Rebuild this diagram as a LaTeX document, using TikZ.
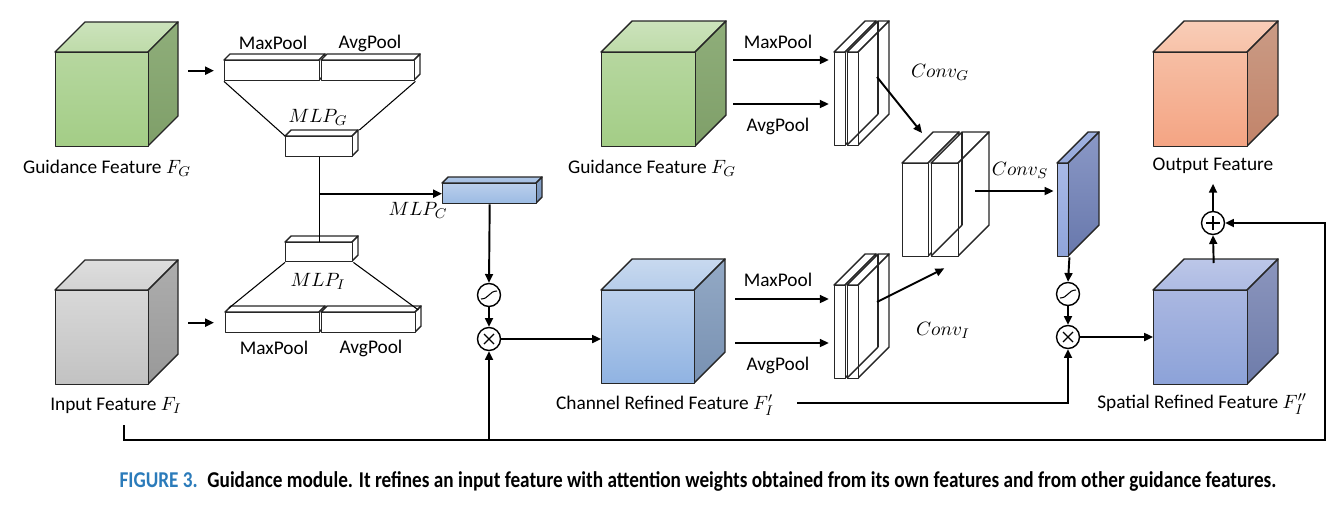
\documentclass[tikz,border=0pt]{standalone}
\usepackage[no-math]{fontspec}
\setmainfont{Carlito}
\usepackage{graphicx}
\usetikzlibrary{arrows.meta,calc}

% face colours: F = front, T = top, S = side
\definecolor{grnFtop}{HTML}{B6D79F}\definecolor{grnFbot}{HTML}{A3CD86}
\definecolor{grnTtop}{HTML}{CCE3BC}\definecolor{grnTbot}{HTML}{BEDBA9}
\definecolor{grnStop}{HTML}{8FAE7A}\definecolor{grnSbot}{HTML}{7F9F69}
\definecolor{gryFtop}{HTML}{D8D8D8}\definecolor{gryFbot}{HTML}{C2C2C2}
\definecolor{gryTtop}{HTML}{DEDEDE}\definecolor{gryTbot}{HTML}{D2D2D2}
\definecolor{gryStop}{HTML}{ADADAD}\definecolor{grySbot}{HTML}{999999}
\definecolor{bluFtop}{HTML}{BBD0EC}\definecolor{bluFbot}{HTML}{90B3E2}
\definecolor{bluTtop}{HTML}{C8D9EF}\definecolor{bluTbot}{HTML}{B6CDEA}
\definecolor{bluStop}{HTML}{93A9C5}\definecolor{bluSbot}{HTML}{7891B2}
\definecolor{purFtop}{HTML}{AAB7E1}\definecolor{purFbot}{HTML}{8CA2D8}
\definecolor{purTtop}{HTML}{BCC7E8}\definecolor{purTbot}{HTML}{AEBBE3}
\definecolor{purStop}{HTML}{8B95BD}\definecolor{purSbot}{HTML}{6E7CAA}
\definecolor{orgFtop}{HTML}{F6BEA4}\definecolor{orgFbot}{HTML}{F4A483}
\definecolor{orgTtop}{HTML}{F9CDB8}\definecolor{orgTbot}{HTML}{F7C2A8}
\definecolor{orgStop}{HTML}{CA9B85}\definecolor{orgSbot}{HTML}{C2846A}
\definecolor{mlpFtop}{HTML}{B9CEEC}\definecolor{mlpFbot}{HTML}{9BBBE3}
\definecolor{mlpTtop}{HTML}{AEC6E6}\definecolor{mlpTbot}{HTML}{A3BDE2}
\definecolor{mlpStop}{HTML}{86A2C8}\definecolor{mlpSbot}{HTML}{7894BC}
\definecolor{slaFtop}{HTML}{A8B9E7}\definecolor{slaFbot}{HTML}{8FA4DA}
\definecolor{slaTtop}{HTML}{A0B2E0}\definecolor{slaTbot}{HTML}{96A9DA}
\definecolor{slaStop}{HTML}{8A98C6}\definecolor{slaSbot}{HTML}{6878AC}
\definecolor{whtFtop}{HTML}{FFFFFF}\definecolor{whtFbot}{HTML}{FFFFFF}
\definecolor{whtTtop}{HTML}{FFFFFF}\definecolor{whtTbot}{HTML}{FFFFFF}
\definecolor{whtStop}{HTML}{FFFFFF}\definecolor{whtSbot}{HTML}{FFFFFF}
\definecolor{capblue}{HTML}{2B7BBA}

\tikzset{
  face/.style={draw=black!85, line width=0.8pt, line join=round},
  arr/.style={-{Triangle[length=5pt,width=4.5pt]}, line width=1.1pt},
  thinln/.style={line width=0.6pt},
  opnode/.style={circle, draw, line width=0.8pt, minimum size=0.46cm, inner sep=0pt, fill=white},
  sigm/.style={opnode, path picture={\draw[line width=0.6pt] ([shift={(-8,4)}]path picture bounding box.center) .. controls +(8,0) and +(-8,0) .. ([shift={(8,-4)}]path picture bounding box.center);}},
  mult/.style={opnode, path picture={\draw[line width=0.7pt] ([shift={(-5,-5)}]path picture bounding box.center) -- ([shift={(5,5)}]path picture bounding box.center) ([shift={(-5,5)}]path picture bounding box.center) -- ([shift={(5,-5)}]path picture bounding box.center);}},
  plus/.style={opnode, path picture={\draw[line width=0.7pt] ([shift={(-7,0)}]path picture bounding box.center) -- ([shift={(7,0)}]path picture bounding box.center) ([shift={(0,-7)}]path picture bounding box.center) -- ([shift={(0,7)}]path picture bounding box.center);}},
}

% name, x, y (front top left), width, height, depth, colour prefix
\newcommand{\cuboid}[7]{%
  \path[face, top color=#7Ttop, bottom color=#7Tbot] (#2,#3) -- ++(#6,-#6) -- ++(#4,0) -- ++(-#6,#6) -- cycle;
  \path[face, top color=#7Stop, bottom color=#7Sbot] (#2+#4,#3) -- ++(#6,-#6) -- ++(0,#5) -- ++(-#6,#6) -- cycle;
  \node[face, anchor=north west, inner sep=0pt, minimum width=#4*0.02cm, minimum height=#5*0.02cm, top color=#7Ftop, bottom color=#7Fbot] (#1) at (#2,#3) {};
}
% hidden edges of a slab: x, y, height, depth
\newcommand{\hidedges}[4]{%
  \draw[face] (#1+#4,#2-#4) -- ++(0,#3);
  \draw[face] (#1,#2+#3) -- ++(#4,-#4);
}

\begin{document}
\begin{tikzpicture}[x=0.02cm, y=-0.02cm, font=\fontsize{11}{13}\selectfont]
\useasboundingbox (0,0) rectangle (1339,504);

% channel attention
\cuboid{gFa}{55}{52}{93}{94}{30}{grn}
\node (gFaL) at (107,168) {Guidance Feature $F_G$};
\cuboid{inp}{55}{290}{93}{94}{30}{gry}
\node (inpL) at (116,405) {Input Feature $F_I$};

\cuboid{mxG}{224}{60}{95}{20}{6}{wht}
\cuboid{avG}{321}{60}{93}{20}{6}{wht}
\node (mxGL) at (273,43) {MaxPool};
\node (avGL) at (370,43) {AvgPool};
\cuboid{mlpG}{285}{136}{67}{20}{6}{wht}
\node (mlpGL) at (318,117) {$MLP_G$};

\cuboid{mlpI}{285}{242}{67}{19}{6}{wht}
\node (mlpIL) at (318,281) {$MLP_I$};
\cuboid{mxI}{225}{312}{94}{20}{6}{wht}
\cuboid{avI}{321}{312}{94}{20}{6}{wht}
\node (mxIL) at (274,348) {MaxPool};
\node (avIL) at (371,348) {AvgPool};

\cuboid{mlpC}{442}{183}{94}{20}{6}{mlp}
\node (mlpCL) at (418,210) {$MLP_C$};

\draw[arr] ([shift={(-36,0)}]mxG.west) -- ([shift={(-10,0)}]mxG.west);
\draw[arr] ([shift={(-37,0)}]mxI.west) -- ([shift={(-11,0)}]mxI.west);
\draw[thinln] (mxG.south west) -- (mlpG.north west);
\draw[thinln] (avG.south east) -- ($(mlpG.north east)+(6,-6)$);
\draw[thinln] (mlpI.south west) -- ($(mxI.north west)+(4,-4)$);
\draw[thinln] (mlpI.south east) -- ($(avI.north east)+(2,-2)$);
\draw[thinln] (mlpG.south) -- (mlpI.north);
\coordinate (jn) at (mlpG.south |- mlpC.west);
\draw[arr] (jn) -- (mlpC.west);

\node[sigm] (sgC) at (489,295) {};
\node[mult] (mlC) at (489,339) {};
\draw[arr] (mlpC.south) -- (sgC.north);
\draw[arr] (sgC) -- (mlC);

% spatial attention
\cuboid{gFb}{601}{52}{94}{94}{31}{grn}
\node (gFbL) at (652,168) {Guidance Feature $F_G$};
\cuboid{chr}{601}{290}{93}{93}{31}{blu}
\node (chrL) at (665,405) {Channel Refined Feature $F_I'$};
\draw[arr] (mlC.east) -- (mlC.east -| chr.west);

\cuboid{cgA}{834}{52}{11}{93}{31}{wht}
\cuboid{cgB}{847}{52}{11}{93}{31}{wht}
\hidedges{847}{52}{93}{31}
\cuboid{ciA}{834}{285}{11}{93}{31}{wht}
\cuboid{ciB}{847}{285}{11}{93}{31}{wht}
\hidedges{847}{285}{93}{31}
\cuboid{bgA}{902}{163}{26}{93}{31}{wht}
\cuboid{bgB}{931}{163}{27}{93}{31}{wht}
\hidedges{931}{163}{93}{31}
\cuboid{slb}{1057}{163}{11}{93}{31}{sla}

\coordinate (pmG) at (733,60);
\coordinate (paG) at (733,104);
\coordinate (pmI) at (735,299);
\coordinate (paI) at (735,343);
\draw[arr, shorten >=3pt] (pmG) -- (pmG -| cgA.west);
\draw[arr, shorten >=3pt] (paG) -- (paG -| cgA.west);
\draw[arr, shorten >=3pt] (pmI) -- (pmI -| ciA.west);
\draw[arr, shorten >=3pt] (paI) -- (paI -| ciA.west);
\node (pmGL) at (778,42) {MaxPool};
\node (paGL) at (778,126) {AvgPool};
\node (pmIL) at (778,280) {MaxPool};
\node (paIL) at (778,365) {AvgPool};

\coordinate (cGo) at (877,77);
\coordinate (cIo) at (877,302);
\coordinate (cSo) at (975,191);
\draw[arr] (cGo) -- ($(bgA.north west)+(20,-30)$);
\draw[arr] (cIo) -- ($(bgB.south)+(-1,11)$);
\draw[arr, shorten >=2pt] (cSo) -- (cSo -| slb.west);
\node (cGL) at (940,72) {$Conv_G$};
\node (cIL) at (943,330) {$Conv_I$};
\node (cSL) at (1020,170) {$Conv_S$};

\node[sigm] (sgS) at (1068,294) {};
\node[mult] (mlS) at (1068,337) {};
\draw[arr] (slb.south east) -- (sgS.north);
\draw[arr] (sgS) -- (mlS);

\cuboid{spr}{1153}{290}{94}{94}{31}{pur}
\node (sprL) at (1202,404) {Spatial Refined Feature $F_I''$};
\draw[arr] (mlS.east) -- (mlS.east -| spr.west);
\coordinate (crl) at (797,403);
\draw[arr] (crl) -| (mlS.south);

\cuboid{out}{1153}{52}{94}{94}{31}{org}
\node (outL) at (1213,166) {Output Feature};
\node[plus] (pls) at (1213,223) {};
\draw[arr] ($(spr.north)+(13,-27)$) -- (pls.south);
\draw[arr] (pls.north) -- ++(0,-27);

% skip connection
\coordinate (bl0) at (124,425);
\coordinate (bl1) at (124,440);
\coordinate (br) at (1325,440);
\draw[arr] (bl0) -- (bl1) -- (br) |- (pls.east);
\draw[arr] (mlC.south |- bl1) -- (mlC.south);

\node (cap) at (698,481) {\resizebox{23.14cm}{!}{\scalebox{0.85}[1]{\bfseries\textcolor{capblue}{FIGURE 3.}\enspace Guidance module. It refines an input feature with attention weights obtained from its own features and from other guidance features.}}};
\end{tikzpicture}
\end{document}
